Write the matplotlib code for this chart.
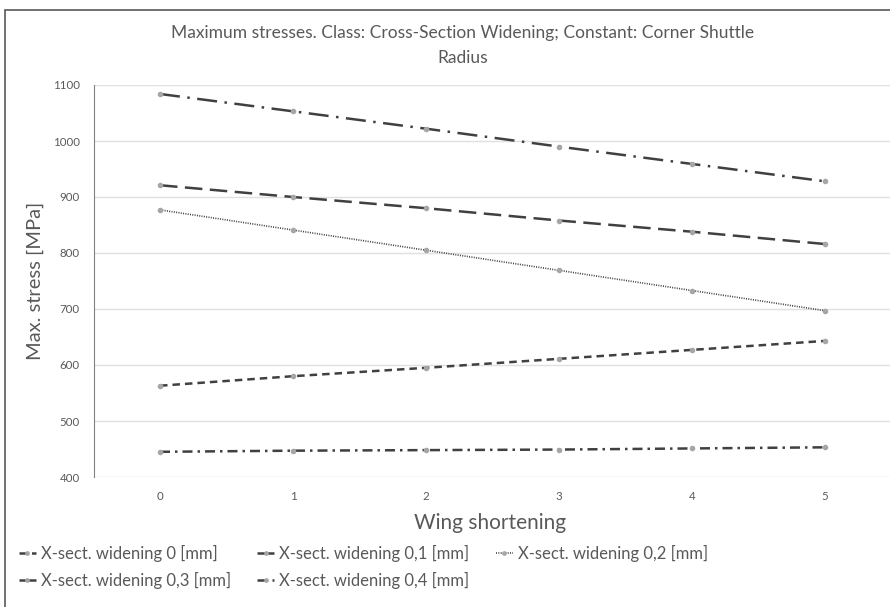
import matplotlib.pyplot as plt
from matplotlib.patches import Rectangle

# Wing shortening steps
shortening = [0, 1, 2, 3, 4, 5]

# Max. stress [MPa] per cross-section widening
widening_0 = [563, 580, 595, 611, 627, 643]
widening_01 = [921, 900, 880, 858, 838, 816]
widening_02 = [877, 841, 805, 769, 733, 697]
widening_03 = [1084, 1053, 1022, 990, 959, 928]
widening_04 = [445, 447, 448, 449, 451, 453]

labels = ["X-sect. widening 0 [mm]", "X-sect. widening 0,1 [mm]",
          "X-sect. widening 0,2 [mm]", "X-sect. widening 0,3 [mm]",
          "X-sect. widening 0,4 [mm]"]
yticks = [400, 500, 600, 700, 800, 900, 1000, 1100]

plt.rcParams['font.family'] = ['Lato', 'DejaVu Sans']

fig = plt.figure(figsize=(8.9, 6.07), dpi=100)
fig.patches.append(Rectangle((5 / 890, -0.1), 1.2, 1.1 - 10 / 607,
                             transform=fig.transFigure, fill=False,
                             edgecolor="#595959", linewidth=1.2))

W, H = 890, 607
ax = fig.add_axes([93.5 / W, 1 - 477 / H, (891.5 - 93.5) / W, (477 - 85) / H])

lineColor = "#404040"
mk = dict(marker='o', markersize=3, markerfacecolor="#a6a6a6",
          markeredgecolor="#a6a6a6", color=lineColor, linewidth=1.8)
l0, = ax.plot(shortening, widening_0, linestyle=(0, (3, 2)), label=labels[0], **mk)
l1, = ax.plot(shortening, widening_01, linestyle=(0, (7, 3)), label=labels[1], **mk)
l2, = ax.plot(shortening, widening_02, linestyle=(0, (0.6, 0.8)), linewidth=1.2,
              marker='o', markersize=3, markerfacecolor="#a6a6a6",
              markeredgecolor="#a6a6a6", color=lineColor, label=labels[2])
l3, = ax.plot(shortening, widening_03, linestyle=(0, (8, 3, 1, 3)), label=labels[3], **mk)
l4, = ax.plot(shortening, widening_04, linestyle=(0, (4, 2, 1, 2)), label=labels[4], **mk)

ax.set_xlim(-0.5, 5.5)
ax.set_ylim(400, 1100)
ax.set_yticks(yticks)
ax.set_xticks(shortening)
ax.grid(axis='y', color="#e0e0e0", linewidth=1)
ax.set_axisbelow(True)
for side in ['top', 'right', 'bottom']:
    ax.spines[side].set_visible(False)
ax.spines['left'].set_color("#808080")
ax.tick_params(length=0, labelsize=8.3, labelcolor="#595959", pad=10)

fig.text(463 / W, 1 - 33 / H,
         "Maximum stresses. Class: Cross-Section Widening; Constant: Corner Shuttle",
         ha='center', va='center', fontsize=12.5, color="#595959")
fig.text(463 / W, 1 - 58 / H, "Radius", ha='center', va='center',
         fontsize=12.5, color="#595959")
fig.text(35 / W, 1 - 281 / H, "Max. stress [MPa]", rotation=90,
         ha='center', va='center', fontsize=14.5, color="#595959")
fig.text(490 / W, 1 - 523 / H, "Wing shortening", ha='center', va='center',
         fontsize=15, color="#595959")

# row-wise legend order for a 3-column layout
order = [l0, l3, l1, l4, l2]
leg = fig.legend(order, [h.get_label() for h in order],
                 loc='upper left', bbox_to_anchor=(4 / W, 1 - 530 / H),
                 ncol=3, frameon=False, fontsize=12, handlelength=1.0,
                 handletextpad=0.3, columnspacing=1.6, labelspacing=0.6,
                 markerscale=0.8)
for t in leg.get_texts():
    t.set_color("#595959")

fig.savefig("out.png", dpi=100)
